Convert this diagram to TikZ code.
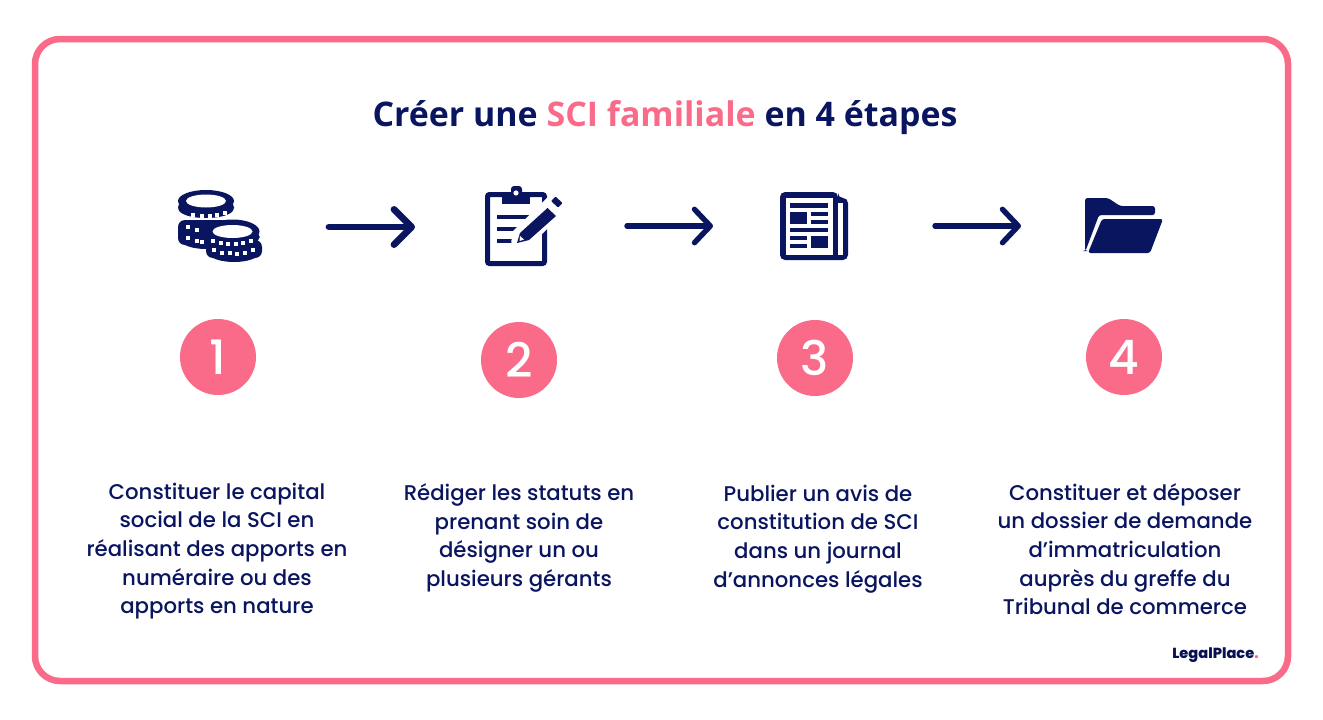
\documentclass[tikz,border=0pt]{standalone}
\usepackage{fontspec}
\setmainfont{Poppins Medium}
\newfontfamily\titlefont{Open Sans}
\usetikzlibrary{arrows.meta}
\definecolor{navy}{HTML}{0A1560}
\definecolor{rose}{HTML}{F96B88}
\tikzset{
  numcircle/.style={circle,fill=rose,text=white,minimum size=76*0.02cm,inner sep=0pt,font=\fontsize{27}{27}\selectfont},
  bodytext/.style={align=center,text=navy,inner sep=0pt,font=\fontsize{12.1}{16.3}\selectfont},
  thinarrow/.style={navy,line width=5.4*0.02cm,line cap=round,-{Straight Barb[round,length=9pt,width=19pt,line width=5.4*0.02cm]}},
  thickarrow/.style={navy,line width=6.8*0.02cm,line cap=round,-{Straight Barb[round,length=10pt,width=20pt,line width=6.8*0.02cm]}}
}
\newcommand{\coinlayer}[5]{% cx, top, bottom, half width, ellipse height
    \fill[navy,rounded corners=0.14cm] (#1-#4,#2) rectangle (#1+#4,#3-4);
    \fill[navy] (#1,#3-#5) ellipse[x radius=#4-3,y radius=#5];
}
\begin{document}
\begin{tikzpicture}[x=0.02cm,y=-0.02cm]
    \useasboundingbox (0,0) rectangle (1323,720);
    \fill[white] (0,0) rectangle (1323,720);
    \draw[rose,line width=6.5*0.02cm,rounded corners=0.5cm] (35,39) rectangle (1288,681);

    % title
    \node[text=navy,inner sep=0pt,font=\titlefont\fontsize{19.3}{24}\selectfont\bfseries] (title) at (665,118) {Créer une \textcolor{rose}{SCI familiale} en 4 étapes};

    % coins
    \fill[navy] (206,201) ellipse[x radius=28,y radius=11];
    \coinlayer{206}{201}{218}{28}{7}
    \coinlayer{206}{220}{249}{28}{9}
    \fill[navy] (232.5,231.5) ellipse[x radius=27,y radius=12];
    \coinlayer{232.5}{231}{247}{27}{7}
    \coinlayer{234}{240}{262}{28}{9}
    \fill[white] (206,201) ellipse[x radius=20,y radius=6.5];
    \fill[white] (232.5,231.5) ellipse[x radius=20,y radius=6.5];
    \foreach \px/\py in {193/215,202/216,210/216,217/215,225/213,188/227,197/230,188/238,197/241,202/242,
                         213/241,221/243,228/244,236/244,243/243,251/241,
                         214/250,222/253,230/253,237/254,245/253,253/250}{
        \fill[white] (\px-1.7,\py-1.7) rectangle (\px+1.7,\py+1.7);
    }

    % clipboard
    \draw[navy,line width=5*0.02cm,rounded corners=0.04cm] (487.5,194.5) rectangle (544.5,263.5);
    \fill[navy,rounded corners=0.06cm] (511,186) rectangle (522,195);
    \fill[navy] (502,192) rectangle (530,203.5);
    \fill[white] (516,193) circle[radius=2.6];
    \foreach \xa/\ya/\xb in {497/217/532,497/229/520,497/241/513}{
        \draw[navy,line width=4*0.02cm] (\xa,\ya) -- (\xb,\ya);
    }
    \fill[white] (549,196) -- (566,210) -- (528,248) -- (511,248) -- (512,232) -- cycle;
    \fill[navy] (547.5,208) -- (556,216) -- (529,240) -- (517,243) -- (520,233) -- cycle;
    \fill[white] (519.5,241) -- (520,236) -- (524,239.5) -- cycle;
    \fill[navy,rounded corners=0.02cm] (555.5,196.5) -- (562.5,203) -- (558,207.5) -- (551,201) -- cycle;

    % newspaper
    \fill[navy,rounded corners=0.1cm] (780,192) -- (838,192) -- (838,198) -- (848,198) -- (848,260) -- (780,260) -- cycle;
    \fill[white] (786,198) rectangle (833,255);
    \fill[white] (838,203) rectangle (842.5,255);
    \fill[navy] (790,203) rectangle (828,208);
    \fill[navy] (790,212) rectangle (807,224);
    \fill[navy] (811,212) rectangle (828,216);
    \fill[navy] (811,220) rectangle (828,224);
    \fill[navy] (790,228) rectangle (828,232);
    \fill[navy] (790,236) rectangle (807,240);
    \fill[navy] (790,244) rectangle (807,248);
    \fill[navy] (811,236) rectangle (828,248);

    % folder
    \fill[navy,rounded corners=0.05cm] (1085,251) -- (1085,198) -- (1108,198) -- (1120,206) -- (1155,206) -- (1155,215) -- (1099,215) -- (1085.5,251) -- cycle;
    \fill[navy,rounded corners=0.05cm] (1102,219) -- (1163,219) -- (1150,253) -- (1088,253) -- cycle;

    % arrows
    \coordinate (arrowa1) at (329,227);
    \coordinate (arrowa2) at (415,227);
    \coordinate (arrowb1) at (627,226);
    \coordinate (arrowb2) at (713,226);
    \coordinate (arrowc1) at (935,226);
    \coordinate (arrowc2) at (1021,226);
    \draw[thickarrow] (arrowa1) to (arrowa2);
    \draw[thinarrow] (arrowb1) to (arrowb2);
    \draw[thinarrow] (arrowc1) to (arrowc2);

    % numbers
    \node[numcircle] (num1) at (218,357) {1};
    \node[numcircle] (num2) at (519,360) {2};
    \node[numcircle] (num3) at (815,358) {3};
    \node[numcircle] (num4) at (1124,357) {4};

    % texts
    \node[bodytext] (text1) at (217,551) {Constituer le capital\\social de la SCI en\\réalisant des apports en\\numéraire ou des\\apports en nature};
    \node[bodytext] (text2) at (519,538) {Rédiger les statuts en\\prenant soin de\\désigner un ou\\plusieurs gérants};
    \node[bodytext] (text3) at (818,539) {Publier un avis de\\constitution de SCI\\dans un journal\\d’annonces légales};
    \node[bodytext] (text4) at (1125,549) {Constituer et déposer\\un dossier de demande\\d’immatriculation\\auprès du greffe du\\Tribunal de commerce};

    % logo
    \node[anchor=east,inner sep=0pt,text=navy!85!black,font=\fontsize{8.3}{10}\selectfont\bfseries] (logo) at (1259,655.5) {LegalPlace\textcolor{rose}{.}};
\end{tikzpicture}
\end{document}
